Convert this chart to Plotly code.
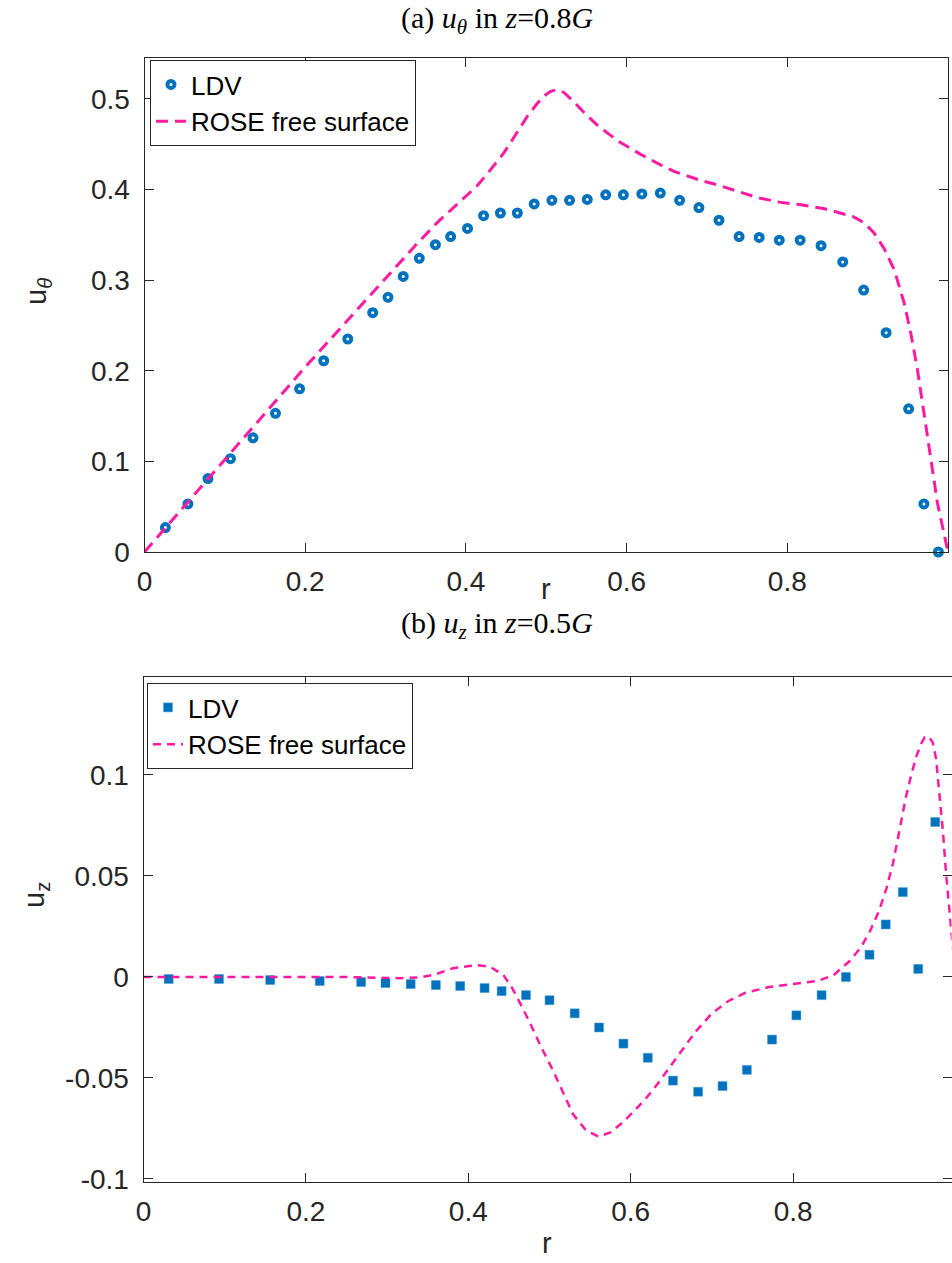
import plotly.graph_objects as go

# ---------------- (a) u_theta at z = 0.8G ----------------
r_ldv_a = [0.026, 0.054, 0.079, 0.107, 0.135, 0.163, 0.193, 0.223, 0.253, 0.284, 0.303,
           0.322, 0.342, 0.362, 0.381, 0.402, 0.422, 0.443, 0.464, 0.485, 0.507, 0.529,
           0.551, 0.574, 0.596, 0.619, 0.642, 0.666, 0.690, 0.715, 0.740, 0.765, 0.790,
           0.816, 0.842, 0.869, 0.895, 0.923, 0.951, 0.970, 0.988]
u_ldv_a = [0.027, 0.053, 0.081, 0.103, 0.126, 0.153, 0.180, 0.211, 0.235, 0.264, 0.281,
           0.304, 0.324, 0.339, 0.348, 0.357, 0.371, 0.374, 0.374, 0.384, 0.388, 0.388,
           0.389, 0.394, 0.394, 0.395, 0.396, 0.388, 0.380, 0.366, 0.348, 0.347, 0.344,
           0.344, 0.338, 0.320, 0.289, 0.242, 0.158, 0.053, 0.000]

r_rose_a = [0.0, 0.05, 0.1, 0.15, 0.2, 0.25, 0.3, 0.34, 0.365, 0.39, 0.414, 0.43, 0.447,
            0.463, 0.476, 0.488, 0.497, 0.505, 0.513, 0.522, 0.534, 0.548, 0.5635, 0.578,
            0.592, 0.617, 0.638, 0.659, 0.692, 0.713, 0.74, 0.763, 0.79, 0.817, 0.845,
            0.867, 0.882, 0.896, 0.908, 0.921, 0.933, 0.9455, 0.954, 0.962, 0.9747,
            0.987, 1.0]
u_rose_a = [0.0, 0.051, 0.102, 0.153, 0.204, 0.253, 0.302, 0.341, 0.364, 0.384, 0.404,
            0.421, 0.440, 0.462, 0.480, 0.494, 0.503, 0.508, 0.510, 0.507, 0.497, 0.484,
            0.471, 0.461, 0.452, 0.439, 0.429, 0.420, 0.410, 0.405, 0.397, 0.391, 0.386,
            0.383, 0.379, 0.374, 0.370, 0.363, 0.352, 0.334, 0.3115, 0.2747, 0.240,
            0.2009, 0.127, 0.0534, 0.0]

xtick_a = [0, 0.2, 0.4, 0.6, 0.8, 1]
xtick_a_text = ["0", "0.2", "0.4", "0.6", "0.8", "1"]
ytick_a = [0, 0.1, 0.2, 0.3, 0.4, 0.5]
ytick_a_text = ["0", "0.1", "0.2", "0.3", "0.4", "0.5"]

# ---------------- (b) u_z at z = 0.5G ----------------
r_ldv_b = [0.031, 0.093, 0.156, 0.217, 0.268, 0.298, 0.329, 0.360, 0.390, 0.420, 0.441,
           0.471, 0.500, 0.531, 0.561, 0.591, 0.621, 0.652, 0.683, 0.713, 0.743, 0.774,
           0.804, 0.835, 0.865, 0.894, 0.914, 0.935, 0.954, 0.975]
u_ldv_b = [-0.001, -0.001, -0.0015, -0.002, -0.0025, -0.003, -0.0035, -0.004, -0.0045,
           -0.0055, -0.007, -0.009, -0.0115, -0.018, -0.025, -0.033, -0.040, -0.0513,
           -0.0568, -0.054, -0.046, -0.031, -0.019, -0.009, 0.000, 0.011, 0.026, 0.042,
           0.004, 0.0767]

r_rose_b = [0.0, 0.1, 0.2, 0.25, 0.3, 0.316, 0.34, 0.357, 0.381, 0.41, 0.4265, 0.443,
            0.453, 0.46, 0.475, 0.49, 0.504, 0.515, 0.529, 0.545, 0.56, 0.575, 0.59,
            0.605, 0.619, 0.633, 0.646, 0.66, 0.68, 0.70, 0.72, 0.74, 0.77, 0.80, 0.83,
            0.85, 0.87, 0.884, 0.895, 0.906, 0.915, 0.923, 0.931, 0.939, 0.946, 0.9516,
            0.957, 0.962, 0.967, 0.972, 0.976, 0.980, 0.9845, 0.9886, 0.995, 1.0]
u_rose_b = [0.0, 0.0, 0.0, 0.0, -0.0005, -0.0006, -0.0002, 0.001, 0.0043, 0.0059, 0.0051,
            0.001, -0.0048, -0.010, -0.022, -0.035, -0.046, -0.056, -0.068, -0.076,
            -0.079, -0.077, -0.072, -0.066, -0.060, -0.053, -0.046, -0.038, -0.027,
            -0.018, -0.012, -0.008, -0.005, -0.0035, -0.002, 0.001, 0.008, 0.015, 0.023,
            0.033, 0.044, 0.0563, 0.072, 0.0893, 0.101, 0.109, 0.115, 0.1187, 0.119,
            0.116, 0.108, 0.0926, 0.072, 0.0497, 0.020, 0.0]

xtick_b = [0, 0.2, 0.4, 0.6, 0.8]
xtick_b_text = ["0", "0.2", "0.4", "0.6", "0.8"]
ytick_b = [-0.1, -0.05, 0, 0.05, 0.1]
ytick_b_text = ["-0.1", "-0.05", "0", "0.05", "0.1"]

BLUE = "#0072BD"
PINK = "#FF1AA0"
AXC = "#262626"
SANS = "Liberation Sans, Arial, Helvetica, sans-serif"
SERIF = "Liberation Serif, Times New Roman, serif"

fig = go.Figure()

fig.add_trace(go.Scatter(
    x=r_ldv_a, y=u_ldv_a, mode="markers", name="LDV",
    marker=dict(symbol="circle-open", size=7, color=BLUE, line=dict(width=4, color=BLUE)),
    xaxis="x", yaxis="y", legend="legend", cliponaxis=False))
fig.add_trace(go.Scatter(
    x=r_rose_a, y=u_rose_a, mode="lines", name="ROSE free surface",
    line=dict(color=PINK, width=3, dash="12px,7px"),
    xaxis="x", yaxis="y", legend="legend"))

fig.add_trace(go.Scatter(
    x=r_ldv_b, y=u_ldv_b, mode="markers", name="LDV",
    marker=dict(symbol="square", size=9, color=BLUE, line=dict(width=0.5, color="#4a9ad6")),
    xaxis="x2", yaxis="y2", legend="legend2", cliponaxis=False))
fig.add_trace(go.Scatter(
    x=r_rose_b, y=u_rose_b, mode="lines", name="ROSE free surface",
    line=dict(color=PINK, width=2.5, dash="8px,6px"),
    xaxis="x2", yaxis="y2", legend="legend2"))

axis_common = dict(
    showline=True, linecolor=AXC, linewidth=1, mirror="allticks",
    ticks="inside", ticklen=9, tickcolor=AXC, tickwidth=1,
    showgrid=False, zeroline=False,
    tickfont=dict(family=SANS, size=28, color=AXC),
)

W, H = 952, 1263
L, R, T, B = 143, 0, 58, 81
PW = W - L - R
PH = H - T - B


def px_x(px):
    return (px - L) / PW


def px_y(py):
    return (H - B - py) / PH


legend_common = dict(
    bgcolor="white", bordercolor=AXC, borderwidth=1,
    font=dict(family=SANS, size=26, color="black"),
    xanchor="left", yanchor="top", tracegroupgap=0, itemwidth=30,
    xref="paper", yref="paper",
)

fig.update_layout(
    width=W, height=H, autosize=False,
    margin=dict(l=L, r=R, t=T, b=B, pad=0),
    paper_bgcolor="white", plot_bgcolor="white",
    xaxis=dict(domain=[px_x(144.5), px_x(948)], anchor="y", range=[0, 1],
               tickvals=xtick_a, ticktext=xtick_a_text, ticklabelstandoff=4, **axis_common),
    yaxis=dict(domain=[px_y(552), px_y(58)], anchor="x", range=[0, 0.545],
               tickvals=ytick_a, ticktext=ytick_a_text, ticklabelstandoff=8, **axis_common),
    xaxis2=dict(domain=[px_x(143.5), px_x(951.5)], anchor="y2", range=[0, 0.995],
                tickvals=xtick_b, ticktext=xtick_b_text, ticklabelstandoff=4, **axis_common),
    yaxis2=dict(domain=[px_y(1182), px_y(677)], anchor="x2", range=[-0.1015, 0.1485],
                tickvals=ytick_b, ticktext=ytick_b_text, ticklabelstandoff=8, **axis_common),
    legend=dict(x=px_x(150), y=px_y(60), **legend_common),
    legend2=dict(x=px_x(147), y=px_y(683), **legend_common),
    showlegend=True,
)

ann = [
    dict(text="(a) <i>u</i><sub><i>θ</i></sub> in <i>z</i>=0.8<i>G</i>",
         x=px_x(497), y=px_y(20), font=dict(family=SERIF, size=30, color="black")),
    dict(text="(b) <i>u</i><sub><i>z</i></sub> in <i>z</i>=0.5<i>G</i>",
         x=px_x(497), y=px_y(625), font=dict(family=SERIF, size=30, color="black")),
    dict(text="r", x=px_x(546), y=px_y(589), font=dict(family=SANS, size=29, color=AXC)),
    dict(text="r", x=px_x(547), y=px_y(1243), font=dict(family=SANS, size=29, color=AXC)),
    dict(text="u<sub><i>θ</i></sub>", x=px_x(38), y=px_y(292), textangle=-90,
         font=dict(family=SANS, size=29, color=AXC)),
    dict(text="u<sub>z</sub>", x=px_x(36), y=px_y(895), textangle=-90,
         font=dict(family=SANS, size=29, color=AXC)),
]
for a in ann:
    a.update(xref="paper", yref="paper", showarrow=False, xanchor="center", yanchor="middle")
    fig.add_annotation(**a)

fig.write_html(
    "out.html",
    config={"displayModeBar": False},
    post_script="document.body.style.margin='0';document.body.style.overflow='hidden';"
                "window.dispatchEvent(new Event('resize'));",
)
